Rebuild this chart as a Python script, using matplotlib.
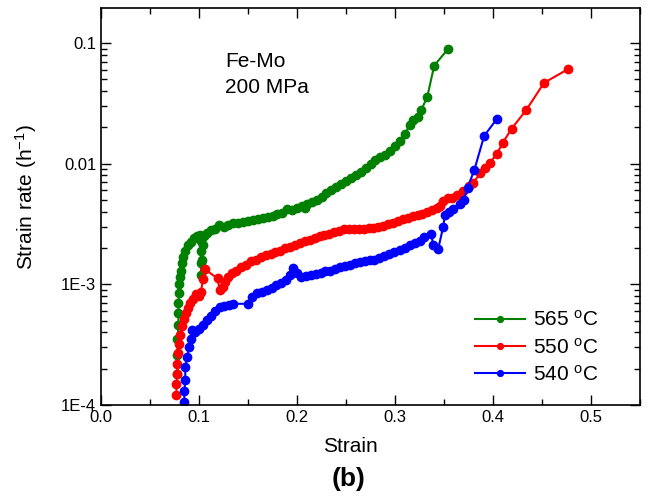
import numpy as np
import matplotlib.pyplot as plt
from matplotlib.ticker import LogLocator, FixedLocator, MultipleLocator

plt.rcParams['font.family'] = ['Liberation Sans', 'DejaVu Sans']
plt.rcParams['mathtext.fontset'] = 'custom'
plt.rcParams['mathtext.rm'] = 'Liberation Sans'
plt.rcParams['mathtext.it'] = 'Liberation Sans:italic'
plt.rcParams['mathtext.bf'] = 'Liberation Sans:bold'

# 565 C
strain_565 = [0.078, 0.078, 0.078, 0.079, 0.079, 0.079, 0.080, 0.080, 0.081, 0.082,
              0.083, 0.084, 0.086, 0.089, 0.092, 0.095, 0.098, 0.101, 0.102, 0.102,
              0.102, 0.102, 0.103, 0.104, 0.105, 0.108, 0.112, 0.116, 0.120, 0.125,
              0.130, 0.135, 0.140, 0.145, 0.150, 0.155, 0.160, 0.165, 0.170, 0.175,
              0.180, 0.185, 0.190, 0.195, 0.200, 0.205, 0.208, 0.210, 0.215, 0.220,
              0.225, 0.230, 0.235, 0.240, 0.245, 0.250, 0.255, 0.260, 0.265, 0.270,
              0.275, 0.280, 0.285, 0.290, 0.295, 0.300, 0.305, 0.310, 0.315, 0.318,
              0.323, 0.327, 0.333, 0.340, 0.354]
rate_565 = [1.8e-4, 2.6e-4, 3.5e-4, 4.6e-4, 5.8e-4, 7.0e-4, 8.5e-4, 1.0e-3, 1.15e-3, 1.3e-3,
            1.5e-3, 1.7e-3, 1.9e-3, 2.1e-3, 2.25e-3, 2.4e-3, 2.5e-3, 2.55e-3, 2.3e-3, 1.9e-3,
            1.5e-3, 1.2e-3, 1.6e-3, 2.1e-3, 2.5e-3, 2.65e-3, 2.8e-3, 2.9e-3, 3.1e-3, 3.0e-3,
            3.1e-3, 3.2e-3, 3.2e-3, 3.3e-3, 3.35e-3, 3.4e-3, 3.5e-3, 3.55e-3, 3.6e-3, 3.7e-3,
            3.8e-3, 3.9e-3, 4.2e-3, 4.1e-3, 4.3e-3, 4.5e-3, 4.3e-3, 4.6e-3, 4.8e-3, 5.0e-3,
            5.3e-3, 5.7e-3, 6.0e-3, 6.4e-3, 6.8e-3, 7.2e-3, 7.6e-3, 8.1e-3, 8.6e-3, 9.2e-3,
            1.0e-2, 1.07e-2, 1.13e-2, 1.19e-2, 1.27e-2, 1.4e-2, 1.55e-2, 1.75e-2, 2.1e-2, 2.3e-2,
            2.45e-2, 2.8e-2, 3.6e-2, 6.5e-2, 8.9e-2]

# 550 C
strain_550 = [0.077, 0.077, 0.078, 0.078, 0.079, 0.080, 0.081, 0.083, 0.085, 0.087,
              0.089, 0.091, 0.094, 0.097, 0.100, 0.102, 0.104, 0.106, 0.119, 0.121,
              0.124, 0.127, 0.130, 0.134, 0.138, 0.143, 0.148, 0.153, 0.158, 0.163,
              0.168, 0.173, 0.178, 0.183, 0.188, 0.193, 0.198, 0.203, 0.208, 0.213,
              0.218, 0.223, 0.228, 0.233, 0.238, 0.243, 0.248, 0.253, 0.258, 0.263,
              0.268, 0.273, 0.278, 0.283, 0.288, 0.293, 0.298, 0.303, 0.308, 0.313,
              0.318, 0.323, 0.328, 0.333, 0.338, 0.343, 0.346, 0.349, 0.354, 0.358,
              0.363, 0.369, 0.375, 0.380, 0.387, 0.392, 0.397, 0.404, 0.410, 0.419,
              0.434, 0.452, 0.477]
rate_550 = [1.2e-4, 1.5e-4, 1.8e-4, 2.2e-4, 2.7e-4, 3.2e-4, 3.8e-4, 4.5e-4, 5.2e-4, 5.8e-4,
            6.4e-4, 7.0e-4, 7.6e-4, 8.3e-4, 8.0e-4, 8.6e-4, 1.1e-3, 1.33e-3, 1.12e-3, 8.9e-4,
            9.5e-4, 1.05e-3, 1.15e-3, 1.25e-3, 1.3e-3, 1.4e-3, 1.45e-3, 1.55e-3, 1.6e-3, 1.7e-3,
            1.75e-3, 1.8e-3, 1.85e-3, 1.9e-3, 2.0e-3, 2.05e-3, 2.1e-3, 2.18e-3, 2.3e-3, 2.35e-3,
            2.4e-3, 2.5e-3, 2.55e-3, 2.6e-3, 2.7e-3, 2.75e-3, 2.85e-3, 2.9e-3, 2.85e-3, 2.9e-3,
            2.9e-3, 2.95e-3, 2.95e-3, 3.0e-3, 3.07e-3, 3.15e-3, 3.25e-3, 3.35e-3, 3.45e-3, 3.55e-3,
            3.65e-3, 3.75e-3, 3.85e-3, 4.0e-3, 4.15e-3, 4.3e-3, 4.5e-3, 4.94e-3, 5.2e-3, 5.2e-3,
            5.5e-3, 5.98e-3, 6.5e-3, 6.97e-3, 8.3e-3, 9.2e-3, 1.02e-2, 1.21e-2, 1.49e-2, 1.95e-2,
            2.79e-2, 4.67e-2, 6.1e-2]

# 540 C
strain_540 = [0.085, 0.085, 0.086, 0.086, 0.088, 0.090, 0.092, 0.093, 0.096, 0.100,
              0.104, 0.108, 0.112, 0.116, 0.121, 0.126, 0.131, 0.135, 0.150, 0.154,
              0.159, 0.164, 0.169, 0.174, 0.179, 0.184, 0.189, 0.193, 0.196, 0.200,
              0.204, 0.209, 0.214, 0.219, 0.224, 0.229, 0.234, 0.239, 0.244, 0.249,
              0.254, 0.259, 0.264, 0.269, 0.274, 0.279, 0.284, 0.289, 0.294, 0.299,
              0.305, 0.310, 0.315, 0.320, 0.325, 0.330, 0.337, 0.339, 0.344, 0.349,
              0.351, 0.355, 0.359, 0.366, 0.370, 0.374, 0.381, 0.391, 0.404]
rate_540 = [1.05e-4, 1.3e-4, 1.6e-4, 2.06e-4, 2.5e-4, 3.0e-4, 3.5e-4, 4.17e-4, 4.0e-4, 4.3e-4,
            4.6e-4, 5.1e-4, 5.5e-4, 6.0e-4, 6.46e-4, 6.6e-4, 6.8e-4, 6.9e-4, 6.9e-4, 7.8e-4,
            8.4e-4, 8.7e-4, 9.0e-4, 9.4e-4, 9.8e-4, 1.02e-3, 1.08e-3, 1.2e-3, 1.36e-3, 1.25e-3,
            1.15e-3, 1.17e-3, 1.2e-3, 1.22e-3, 1.25e-3, 1.28e-3, 1.3e-3, 1.33e-3, 1.38e-3, 1.42e-3,
            1.45e-3, 1.5e-3, 1.52e-3, 1.55e-3, 1.58e-3, 1.6e-3, 1.65e-3, 1.72e-3, 1.78e-3, 1.85e-3,
            1.91e-3, 2.0e-3, 2.1e-3, 2.2e-3, 2.3e-3, 2.45e-3, 2.63e-3, 2.1e-3, 1.95e-3, 2.96e-3,
            3.72e-3, 4.0e-3, 4.25e-3, 4.66e-3, 5.0e-3, 6.3e-3, 8.9e-3, 1.7e-2, 2.35e-2]

fig = plt.figure(figsize=(6.52, 4.97), dpi=100)
ax = fig.add_axes([101/652, 1 - 405/497, 539/652, 397/497])

ax.plot(strain_565, rate_565, '-o', color='#008000', ms=6, lw=1.5, label='565 $^{\\rm o}$C')
ax.plot(strain_550, rate_550, '-o', color='#ff0000', ms=6, lw=1.5, label='550 $^{\\rm o}$C')
ax.plot(strain_540, rate_540, '-o', color='#0000ff', ms=6, lw=1.5, label='540 $^{\\rm o}$C')

ax.set_yscale('log')
ax.set_xlim(0, 0.55)
ax.set_ylim(1e-4, 0.195)
ax.xaxis.set_major_locator(MultipleLocator(0.1))
ax.xaxis.set_minor_locator(MultipleLocator(0.05))
ax.yaxis.set_major_locator(FixedLocator([1e-4, 1e-3, 1e-2, 1e-1]))
ax.set_yticklabels(['1E-4', '1E-3', '0.01', '0.1'])
ax.yaxis.set_minor_locator(LogLocator(base=10, subs=np.arange(2, 10)))
ax.tick_params(which='both', direction='in', top=True, right=True, labelsize=12)
ax.tick_params(which='major', length=7, width=1)
ax.tick_params(which='minor', length=4, width=1)
for s in ax.spines.values():
    s.set_linewidth(1.2)

ax.set_xlabel('Strain', fontsize=15)
ax.set_ylabel('Strain rate (h$^{-1}$)', fontsize=15)
ax.xaxis.set_label_coords(0.462, -0.08)
ax.yaxis.set_label_coords(-0.115, 0.524)

ax.text(0.23, 0.89, 'Fe-Mo\n200 MPa', transform=ax.transAxes, fontsize=15,
        va='top', ha='left', linespacing=1.5)

leg = ax.legend(loc='lower right', bbox_to_anchor=(0.939, 0.03), frameon=False,
                fontsize=15, handlelength=2.4, markerscale=0.7, labelspacing=0.35,
                borderaxespad=0, handletextpad=0.4)

fig.text(0.535, 0.012, '(b)', ha='center', va='bottom', fontsize=19, fontweight='bold')

fig.savefig('out.png', dpi=100)
